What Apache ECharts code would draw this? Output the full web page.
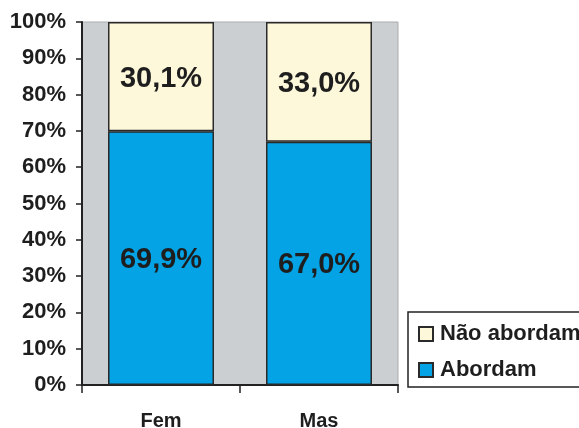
<!DOCTYPE html>
<html>
<head>
<meta charset="utf-8">
<script src="https://cdn.jsdelivr.net/npm/echarts@6/dist/echarts.min.js"></script>
<style>html,body{margin:0;padding:0;background:#fff}#c{width:579px;height:428px}</style>
</head>
<body>
<div id="c"></div>
<script>
const categories = ['Fem', 'Mas'];
const abordam = [69.9, 67.0];
const naoAbordam = [30.1, 33.0];
const seriesNames = ['Abordam', 'Não abordam'];

const font = '"Liberation Sans", Arial, sans-serif';
const fmt = v => v.toFixed(1).replace('.', ',') + '%';
const chart = echarts.init(document.getElementById('c'), null, {renderer: 'canvas'});
const labelStyle = {
  show: true, position: 'inside', fontFamily: font, fontWeight: 'bold',
  fontSize: 29, color: '#1e1e1e', offset: [0, 2], formatter: p => fmt(p.value)
};
chart.setOption({
  animation: false,
  grid: {left: 82, right: 181, top: 22, bottom: 43, show: true, outerBoundsMode: 'none', containLabel: false,
         backgroundColor: '#cbcfd2', borderColor: '#a9adb0', borderWidth: 1},
  legend: {
    data: [seriesNames[1], seriesNames[0]],
    orient: 'vertical', left: 408, top: 312,
    itemWidth: 14, itemHeight: 14, itemGap: 14,
    padding: [11, 30, 6, 10],
    borderColor: '#222', borderWidth: 1.5, backgroundColor: '#fff',
    icon: 'rect',
    textStyle: {fontFamily: font, fontWeight: 'bold', fontSize: 22, lineHeight: 22, color: '#1e1e1e', padding: [0, 0, 0, 2]}
  },
  xAxis: {
    type: 'category', data: categories,
    axisLine: {lineStyle: {color: '#222', width: 2}},
    axisTick: {show: true, length: 8, lineStyle: {color: '#222', width: 1.5}},
    axisLabel: {fontFamily: font, fontWeight: 'bold', fontSize: 20, color: '#1e1e1e', margin: 26}
  },
  yAxis: {
    type: 'value', min: 0, max: 100, interval: 10,
    axisLine: {show: true, lineStyle: {color: '#222', width: 2}},
    axisTick: {show: true, length: 6, lineStyle: {color: '#222', width: 1.5}},
    splitLine: {show: false},
    axisLabel: {fontFamily: font, fontWeight: 'bold', fontSize: 22, color: '#1e1e1e', margin: 16, formatter: '{value}%'}
  },
  series: [
    {name: seriesNames[0], type: 'bar', stack: 's', data: abordam, barWidth: 106,
     itemStyle: {color: '#03a3e6', borderColor: '#2a2a2a', borderWidth: 1.5}, label: labelStyle},
    {name: seriesNames[1], type: 'bar', stack: 's', data: naoAbordam, barWidth: 106,
     itemStyle: {color: '#fef8da', borderColor: '#2a2a2a', borderWidth: 1.5}, label: labelStyle}
  ]
});
</script>
</body>
</html>
